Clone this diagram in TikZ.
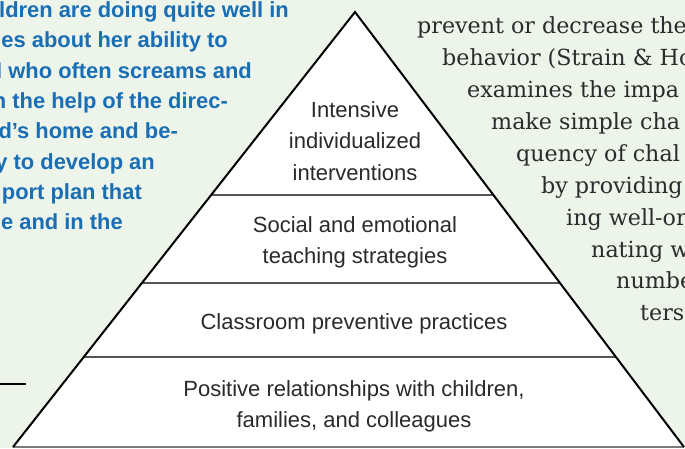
\documentclass[tikz,border=0pt]{standalone}
\usepackage{fontspec}
\setmainfont{Liberation Sans}
\newfontfamily\serifface{DejaVu Serif}
\usetikzlibrary{calc}
\definecolor{mint}{HTML}{EDF5EB}
\definecolor{sidebarblue}{HTML}{1A6EB4}
\definecolor{labelgray}{HTML}{2A2A2A}
\definecolor{bodyink}{HTML}{2B2B2B}
\definecolor{rulegray}{HTML}{555555}
\definecolor{basegray}{HTML}{7A7A7A}
\begin{document}
\begin{tikzpicture}[x=1pt,y=-1pt,
  bluetext/.style={anchor=base east, inner sep=0pt, text=sidebarblue, font=\fontsize{21.9}{30}\selectfont\bfseries},
  bodytext/.style={anchor=base west, inner sep=0pt, text=bodyink, font=\serifface\fontsize{22.2}{32}\selectfont},
  tierlabel/.style={anchor=base, inner sep=0pt, text=labelgray, font=\fontsize{22}{31}\selectfont},
  outline/.style={draw=black, line width=2pt, line join=miter},
  divider/.style={draw=rulegray, line width=1.5pt},
  baseline rule/.style={draw=basegray, line width=2pt}]
\useasboundingbox (0,0) rectangle (685,448);
\fill[mint] (0,0) rectangle (685,448);
% pyramid
\coordinate (apex) at (355,12);
\coordinate (bl) at (13,447);
\coordinate (br) at (684,447);
\fill[white] (apex) -- (bl) -- (br) -- cycle;
\coordinate (d1l) at ($(apex)!{183/435}!(bl)$);
\coordinate (d1r) at ($(apex)!{183/435}!(br)$);
\coordinate (d2l) at ($(apex)!{271/435}!(bl)$);
\coordinate (d2r) at ($(apex)!{271/435}!(br)$);
\coordinate (d3l) at ($(apex)!{345/435}!(bl)$);
\coordinate (d3r) at ($(apex)!{345/435}!(br)$);
\draw[divider] (d1l) -- (d1r);
\draw[divider] (d2l) -- (d2r);
\draw[divider] (d3l) -- (d3r);
\draw[baseline rule] (bl) -- (br);
\draw[outline] (bl) -- (apex) -- (br);
% tier labels
\node[tierlabel] (t1a) at (355,117) {Intensive};
\node[tierlabel] (t1b) at (355,148.5) {individualized};
\node[tierlabel] (t1c) at (355,180) {interventions};
\node[tierlabel] (t2a) at (355,232) {Social and emotional};
\node[tierlabel] (t2b) at (355,263.5) {teaching strategies};
\node[tierlabel] (t3) at (354,329) {Classroom preventive practices};
\node[tierlabel] (t4a) at (354,396) {Positive relationships with children,};
\node[tierlabel] (t4b) at (354,427.5) {families, and colleagues};
% left sidebar text
\node[bluetext] (s1) at (289,17) {ldren are doing quite well in};
\node[bluetext] (s2) at (228,47.5) {es about her ability to};
\node[bluetext] (s3) at (252,78) {l who often screams and};
\node[bluetext] (s4) at (228,108) {n the help of the direc-};
\node[bluetext] (s5) at (178,138.5) {d’s home and be-};
\node[bluetext] (s6) at (155,169) {y to develop an};
\node[bluetext] (s7) at (142,199) {port plan that};
\node[bluetext] (s8) at (123,229.5) {e and in the};
\coordinate (rs) at (0,384);
\coordinate (re) at (26,384);
\draw[line width=1.5pt] (rs) -- (re);
% right body text
\node[bodytext] (b1) at (417,33) {prevent or decrease the};
\node[bodytext] (b2) at (442,65) {behavior (Strain \& Ho};
\node[bodytext] (b3) at (467,97) {examines the impa};
\node[bodytext] (b4) at (491,129) {make simple cha};
\node[bodytext] (b5) at (516,161) {quency of chal};
\node[bodytext] (b6) at (541,193) {by providing};
\node[bodytext] (b7) at (566,225) {ing well-or};
\node[bodytext] (b8) at (591,257) {nating w};
\node[bodytext] (b9) at (616,288) {numbe};
\node[bodytext] (b10) at (640,320) {ters};
\end{tikzpicture}
\end{document}
